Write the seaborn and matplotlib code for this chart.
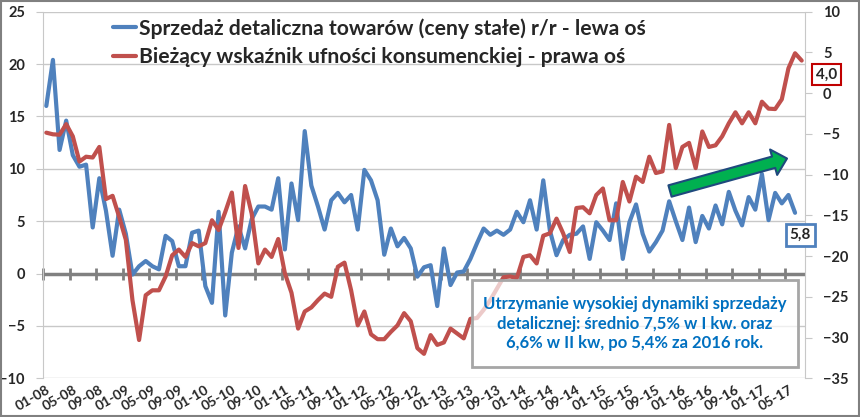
import numpy as np
import pandas as pd
import seaborn as sns
import matplotlib.pyplot as plt
from matplotlib.patches import Rectangle

# retail sales y/y (constant prices), left axis, from 01-08
sales = [16.0, 20.4, 11.8, 14.6, 11.3, 10.2, 10.4, 4.4, 9.1, 6.0,
         1.7, 6.1, 3.8, -0.1, 0.7, 1.2, 0.7, 0.4, 3.6, 3.1,
         0.7, 0.7, 3.9, 4.1, -1.2, -2.8, 5.9, -4.0, 2.0, 4.5,
         2.4, 5.2, 6.4, 6.4, 6.1, 9.1, 2.3, 8.6, 5.1, 13.6,
         8.4, 6.4, 4.2, 7.0, 7.7, 6.8, 7.5, 4.2, 9.9, 8.9,
         7.0, 1.8, 4.3, 2.6, 3.4, 2.4, -0.3, 0.6, 0.8, -3.1,
         2.4, -1.1, 0.1, 0.2, 1.4, 2.9, 4.3, 3.7, 4.1, 3.7,
         4.2, 5.9, 4.9, 7.0, 4.2, 8.9, 4.1, 1.75, 3.2, 3.7,
         3.8, 4.5, 1.4, 4.9, 4.1, 3.2, 6.7, 1.4, 4.9, 6.6,
         3.8, 2.1, 3.0, 4.1, 6.9, 5.0, 3.2, 6.3, 3.0, 5.5,
         4.3, 6.5, 4.7, 7.8, 6.0, 4.6, 7.3, 6.1, 9.5, 5.1,
         7.7, 6.7, 7.5, 5.8]

# consumer confidence indicator (BWUK), right axis, from 01-08
confidence = [-4.85, -5.05, -5.1, -3.8, -5.3, -8.4, -7.8, -7.9, -6.6, -13.0,
              -12.6, -15.2, -18.0, -25.4, -30.3, -24.8, -24.2, -24.2, -22.5, -19.9,
              -19.2, -20.1, -18.4, -18.8, -18.4, -15.6, -16.8, -14.6, -12.2, -19.0,
              -11.4, -14.8, -20.9, -19.2, -20.1, -17.9, -22.1, -24.5, -28.9, -26.8,
              -26.3, -25.4, -24.6, -25.0, -21.3, -20.8, -24.2, -28.5, -26.8, -29.6,
              -30.2, -30.2, -29.3, -28.5, -27.0, -28.0, -31.3, -32.0, -29.7, -30.9,
              -30.6, -28.9, -29.5, -30.1, -27.7, -27.6, -26.6, -25.4, -24.0, -22.6,
              -22.5, -22.7, -20.1, -19.9, -20.9, -17.5, -17.2, -15.4, -17.2, -19.5,
              -14.1, -14.0, -14.75, -12.5, -11.7, -15.6, -15.6, -10.9, -13.3, -10.25,
              -10.9, -7.8, -9.8, -9.6, -3.9, -9.2, -6.6, -6.1, -9.2, -4.7,
              -6.6, -6.4, -5.3, -3.7, -2.35, -3.7, -2.35, -3.7, -1.05, -1.9,
              -1.95, -0.75, 3.05, 4.9, 4.0]

sales_label = "Sprzedaż detaliczna towarów (ceny stałe) r/r - lewa oś"
conf_label = "Bieżący wskaźnik ufności konsumenckiej - prawa oś"
note = ("Utrzymanie wysokiej dynamiki sprzedaży\n"
        "detalicznej: średnio 7,5% w I kw. oraz\n"
        "6,6% w II kw, po 5,4% za 2016 rok.")

months = pd.period_range("2008-01", periods=len(confidence), freq="M")
month_labels = [m.strftime("%m-%y") for m in months]

df_sales = pd.DataFrame({"idx": np.arange(len(sales)), "val": sales})
df_conf = pd.DataFrame({"idx": np.arange(len(confidence)), "val": confidence})

sns.set_style("white")
plt.rcParams["font.family"] = ["Lato", "DejaVu Sans"]
plt.rcParams["font.weight"] = "bold"

blue = "#4F81BD"
red = "#C0504D"
grid_c = "#c8c8c8"

fig = plt.figure(figsize=(8.6, 4.17), dpi=100)
ax = fig.add_axes([43 / 860, 1 - 378.3 / 417, 762 / 860, 366.6 / 417])
ax2 = ax.twinx()

sns.lineplot(data=df_sales, x="idx", y="val", ax=ax, color=blue, lw=3,
             legend=False, zorder=3)
sns.lineplot(data=df_conf, x="idx", y="val", ax=ax2, color=red, lw=3,
             legend=False, zorder=3)
h1 = ax.lines[0]
h2 = ax2.lines[0]

ax.set_xlim(-0.5, len(confidence) - 0.5)
ax.set_ylim(-10, 25)
ax2.set_ylim(-35, 10)
ax.set_yticks(range(-10, 26, 5))
ax2.set_yticks(range(-35, 11, 5))
for a in (ax, ax2):
    a.set_xlabel("")
    a.set_ylabel("")

# horizontal grid + zero axis line with tick marks
ax.yaxis.grid(True, color=grid_c, lw=1)
ax.set_axisbelow(True)
ax.axhline(0, color="#808080", lw=2.5, zorder=2)
tick_x = np.arange(-0.5, len(confidence) - 1, 4)
ax.plot(tick_x, np.zeros_like(tick_x), ls="none", marker="|", ms=9, mew=2,
        color="#808080", zorder=2, clip_on=False)

# spines
for s in ("top", "bottom", "right"):
    ax.spines[s].set_visible(False)
for s in ("top", "bottom", "left"):
    ax2.spines[s].set_visible(False)
ax.spines["left"].set_color(grid_c)
ax2.spines["right"].set_color(grid_c)

ax.tick_params(axis="y", length=5, color=grid_c, pad=8, labelsize=10.5)
ax2.tick_params(axis="y", length=5, color=grid_c, pad=8, labelsize=10.5)
ax.set_xticks(range(0, len(confidence), 4))
ax.set_xticklabels(month_labels[::4], rotation=30, ha="right",
                   rotation_mode="anchor")
ax.tick_params(axis="x", length=0, pad=4, labelsize=10)

# legend
ax2.legend([h1, h2], [sales_label, conf_label], loc="upper left",
           bbox_to_anchor=(113 / 860, 1 - 18 / 417), bbox_transform=fig.transFigure,
           frameon=False, fontsize=15.2, handlelength=1.1, handletextpad=0.15,
           labelspacing=0.42, borderpad=0, borderaxespad=0)

# last value labels
ax2.annotate("4,0", xy=(len(confidence) - 1, confidence[-1]), xytext=(25, -14),
             textcoords="offset pixels", ha="center", va="center", fontsize=11,
             fontweight="bold", annotation_clip=False, zorder=6,
             bbox=dict(boxstyle="square,pad=0.25", fc="white", ec="#C00000", lw=1.5))
ax2.annotate("5,8", xy=(len(sales) - 1, (sales[-1] + 10) * 45 / 35 - 35),
             xytext=(5, -22), textcoords="offset pixels", ha="center", va="center",
             fontsize=11, fontweight="bold", annotation_clip=False, zorder=6,
             bbox=dict(boxstyle="square,pad=0.25", fc="white", ec=blue, lw=2))

# green trend arrow
ax2.annotate("", xy=(787, 258.5), xycoords="figure pixels",
             xytext=(670, 226), textcoords="figure pixels",
             arrowprops=dict(arrowstyle="simple,head_length=1.0,head_width=1.9,tail_width=0.85",
                             fc="#00B050", ec="#1F497D", lw=1.5, shrinkA=0, shrinkB=0,
                             mutation_scale=10))

# comment box
fig.add_artist(Rectangle((472 / 860, 1 - 367 / 417), 326 / 860, 87 / 417,
                         transform=fig.transFigure, fc=(1, 1, 1, 0.7),
                         ec="#a6a6a6", lw=2, zorder=4))
fig.text((472 + 798) / 2 / 860, 1 - 323.5 / 417, note, ha="center", va="center",
         color="#0070C0", fontsize=12, fontweight="bold", linespacing=1.3,
         zorder=5)

# chart border
fig.add_artist(Rectangle((0.001, 0.002), 0.998, 0.996, transform=fig.transFigure,
                         fill=False, ec="#808080", lw=1.5))

fig.savefig("out.png", dpi=100)
